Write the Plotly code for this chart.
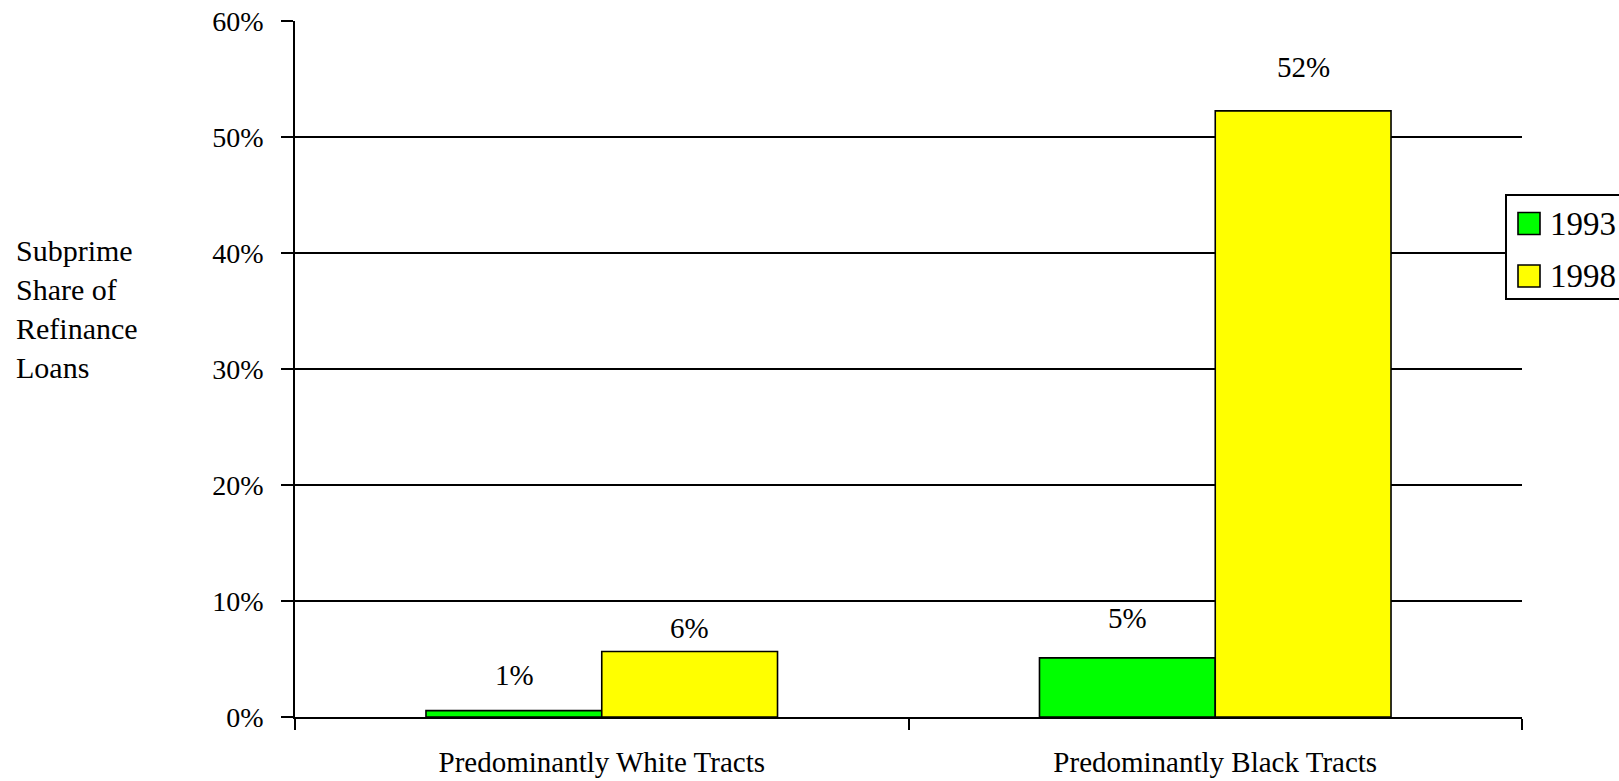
import plotly.graph_objects as go

# Subprime share of refinance loans by neighbourhood type
categories = ["Predominantly White Tracts", "Predominantly Black Tracts"]
years = ["1993", "1998"]
share_1993 = [0.55, 5.1]
share_1998 = [5.65, 52.25]
colors = ["#00FF00", "#FFFF00"]

FONT = "Liberation Serif, Times New Roman, serif"
series = [share_1993, share_1998]

fig = go.Figure()
for name, vals, col in zip(years, series, colors):
    fig.add_trace(go.Bar(
        x=categories, y=vals, name=name,
        marker=dict(color=col, line=dict(color="black", width=1.6)),
        showlegend=False,
    ))

# value labels sit a little above each bar
lift = [[36, 40], [23, 44]]
for si, vals in enumerate(series):
    for ci, v in enumerate(vals):
        fig.add_annotation(
            x=categories[ci], y=v, xref="x", yref="y",
            text=f"{v:.0f}%", showarrow=False,
            xshift=(-1 if si == 0 else 1) * 87.75,
            yshift=lift[si][ci], yanchor="middle",
            font=dict(family=FONT, size=29, color="black"),
        )

# y-axis caption
fig.add_annotation(
    xref="paper", yref="paper", x=-0.229, y=0.5856,
    xanchor="left", yanchor="middle", align="left",
    text="Subprime<br>Share of<br>Refinance<br>Loans", showarrow=False,
    font=dict(family=FONT, size=30, color="black"),
)

# legend box, placed in pixel terms relative to the plot area
px0, pw, ph, pb = 295, 1227, 696, 717
def px(xp):
    return (xp - px0) / pw
def py(yp):
    return (pb - yp) / ph

fig.add_shape(type="rect", xref="paper", yref="paper",
              x0=px(1506), x1=px(1640), y0=py(299), y1=py(195),
              line=dict(color="black", width=2), fillcolor="white")
for i, (name, col) in enumerate(zip(years, colors)):
    cy = 223.5 + i * 52.5
    fig.add_shape(type="rect", xref="paper", yref="paper",
                  x0=px(1518), x1=px(1540), y0=py(cy + 11), y1=py(cy - 11),
                  line=dict(color="black", width=1.6), fillcolor=col)
    fig.add_annotation(xref="paper", yref="paper", x=px(1548), y=py(cy),
                       xanchor="left", yanchor="middle", text=name,
                       showarrow=False,
                       font=dict(family=FONT, size=33, color="black"))

fig.update_layout(
    width=1619, height=781,
    margin=dict(l=295, r=97, t=21, b=64),
    plot_bgcolor="white", paper_bgcolor="white",
    barmode="group", bargap=0.427, bargroupgap=0,
    font=dict(family=FONT, size=28, color="black"),
    showlegend=False,
)
fig.update_xaxes(
    type="category", tickson="boundaries", automargin=False,
    showline=True, linecolor="black", linewidth=1.6,
    ticks="outside", ticklen=11, tickcolor="black", tickwidth=1.6,
    showgrid=False, ticklabelstandoff=18,
    tickfont=dict(family=FONT, size=29, color="black"),
)
fig.update_yaxes(
    range=[0, 60], dtick=10, ticksuffix="%", automargin=False,
    showline=True, linecolor="black", linewidth=1.6,
    ticks="outside", ticklen=12, tickcolor="black", tickwidth=1.6,
    showgrid=True, gridcolor="black", gridwidth=1.5,
    zeroline=False, ticklabelstandoff=12,
    tickfont=dict(family=FONT, size=28, color="black"),
)

fig.write_html("out.html")
